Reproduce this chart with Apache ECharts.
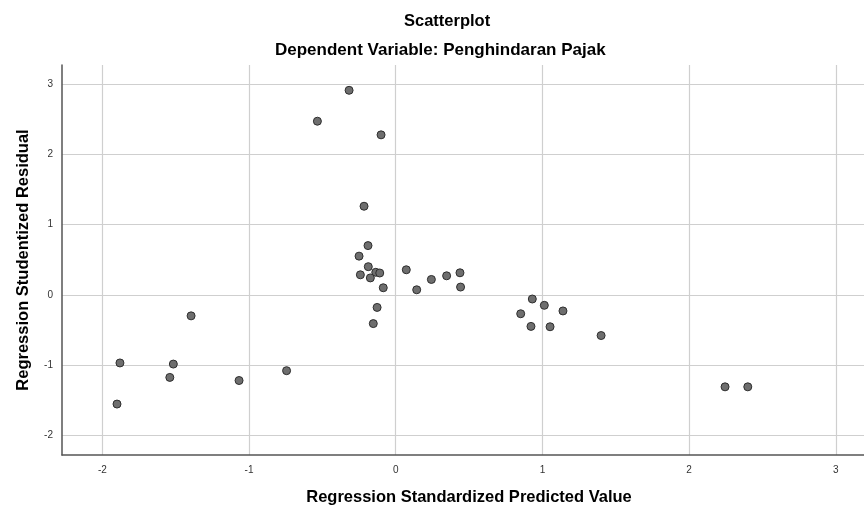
<!DOCTYPE html>
<html>
<head>
<meta charset="utf-8">
<script src="https://cdn.jsdelivr.net/npm/echarts@6/dist/echarts.min.js"></script>
<style>html,body{margin:0;padding:0;background:#fff;}#c{width:864px;height:508px;}</style>
</head>
<body>
<div id="c"></div>
<script>
// Regression standardized predicted value (x) and studentized residual (y)
const predicted = [
  -1.88, -1.90, -1.395, -1.516, -1.54, -1.068, -0.744,
  -0.318, -0.534, -0.10, -0.216, -0.189,
  -0.25, -0.187, -0.241, -0.136, -0.109, -0.173, -0.085,
  0.072, 0.143, 0.243, 0.347, 0.438, 0.442, -0.127, -0.153,
  0.931, 1.013, 0.852, 1.14, 0.922, 1.052, 1.40, 2.245, 2.40
];
const residual = [
  -0.97, -1.555, -0.30, -0.986, -1.176, -1.22, -1.08,
  2.91, 2.47, 2.276, 1.26, 0.70,
  0.55, 0.40, 0.284, 0.32, 0.31, 0.24, 0.10,
  0.356, 0.071, 0.218, 0.27, 0.313, 0.11, -0.18, -0.41,
  -0.06, -0.15, -0.27, -0.23, -0.45, -0.455, -0.58, -1.31, -1.31
];
const titleText = 'Scatterplot';
const subtitleText = 'Dependent Variable: Penghindaran Pajak';
const xName = 'Regression Standardized Predicted Value';
const yName = 'Regression Studentized Residual';

const points = predicted.map((x, i) => [x, residual[i]]);
const font = '"Liberation Sans", Arial, sans-serif';
const chart = echarts.init(document.getElementById('c'), null, {renderer: 'canvas'});
chart.setOption({
  animation: false,
  backgroundColor: '#ffffff',
  title: [
    {text: titleText, left: 399, top: 8, textStyle: {fontFamily: font, fontSize: 16.5, fontWeight: 'bold', color: '#000'}},
    {text: subtitleText, left: 270, top: 37, textStyle: {fontFamily: font, fontSize: 17, fontWeight: 'bold', color: '#000'}}
  ],
  grid: {left: 62, right: -12, top: 65, bottom: 53, containLabel: false, outerBoundsMode: 'none'},
  xAxis: {
    type: 'value', min: -2.275, max: 3.274, splitNumber: 5,
    name: xName, nameLocation: 'middle', nameGap: 34,
    nameTextStyle: {fontFamily: font, fontSize: 16.5, fontWeight: 'bold', color: '#000'},
    axisLine: {show: true, onZero: false, lineStyle: {color: '#555', width: 1.5}},
    axisTick: {show: false},
    axisLabel: {fontFamily: font, fontSize: 10, color: '#333', margin: 10, showMinLabel: false, showMaxLabel: false,
      formatter: v => Number.isInteger(v) ? String(v) : ''},
    splitLine: {show: true, showMinLine: false, showMaxLine: false, lineStyle: {color: '#cfcfcf', width: 1.2}}
  },
  yAxis: {
    type: 'value', min: -2.28, max: 3.27, splitNumber: 5,
    name: yName, nameLocation: 'middle', nameGap: 30,
    nameTextStyle: {fontFamily: font, fontSize: 16.5, fontWeight: 'bold', color: '#000'},
    axisLine: {show: true, onZero: false, lineStyle: {color: '#555', width: 1.5}},
    axisTick: {show: false},
    axisLabel: {fontFamily: font, fontSize: 10, color: '#333', margin: 9, showMinLabel: false, showMaxLabel: false,
      formatter: v => Number.isInteger(v) ? String(v) : ''},
    splitLine: {show: true, showMinLine: false, showMaxLine: false, lineStyle: {color: '#cfcfcf', width: 1.2}}
  },
  series: [{
    type: 'scatter',
    data: points,
    symbol: 'circle',
    symbolSize: 8,
    itemStyle: {color: '#6e6e6e', borderColor: '#2e2e2e', borderWidth: 1, opacity: 1}
  }]
});
</script>
</body>
</html>
